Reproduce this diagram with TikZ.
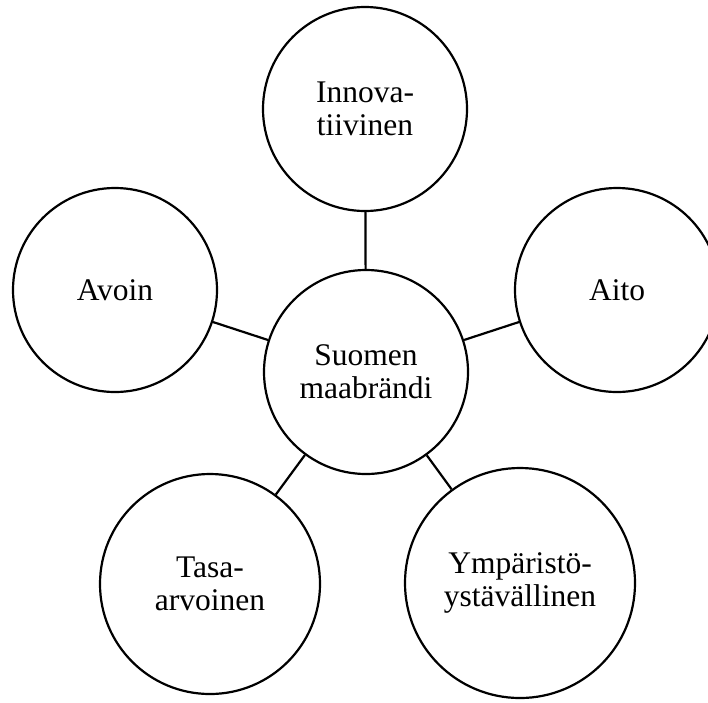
\documentclass[tikz,border=0pt]{standalone}
\usepackage{fontspec}
\setmainfont{Liberation Serif}
\begin{document}
\begin{tikzpicture}[x=1pt,y=-1pt,
  bubble/.style={draw, circle, line width=2.2pt, inner sep=0pt, align=center,
    font=\fontsize{31.5}{33}\selectfont},
  link/.style={line width=2.2pt}]
\useasboundingbox (0,0) rectangle (708,702);
\clip (0,0) rectangle (708,702);
\node[bubble, minimum size=204pt] (c) at (366,372) {Suomen\\maabrändi};
\node[bubble, minimum size=204pt] (inn) at (365,109) {Innova-\\tiivinen};
\node[bubble, minimum size=204pt] (avo) at (115,290) {Avoin};
\node[bubble, minimum size=204pt] (ait) at (617,290) {Aito};
\node[bubble, minimum size=220pt] (tas) at (210,584) {Tasa-\\arvoinen};
\node[bubble, minimum size=230pt] (ymp) at (520,583) {Ympäristö-\\ystävällinen};
\draw[link] (c) -- (inn);
\draw[link] (c) -- (avo);
\draw[link] (c) -- (ait);
\draw[link] (c) -- (tas);
\draw[link] (c) -- (ymp);
\end{tikzpicture}
\end{document}
